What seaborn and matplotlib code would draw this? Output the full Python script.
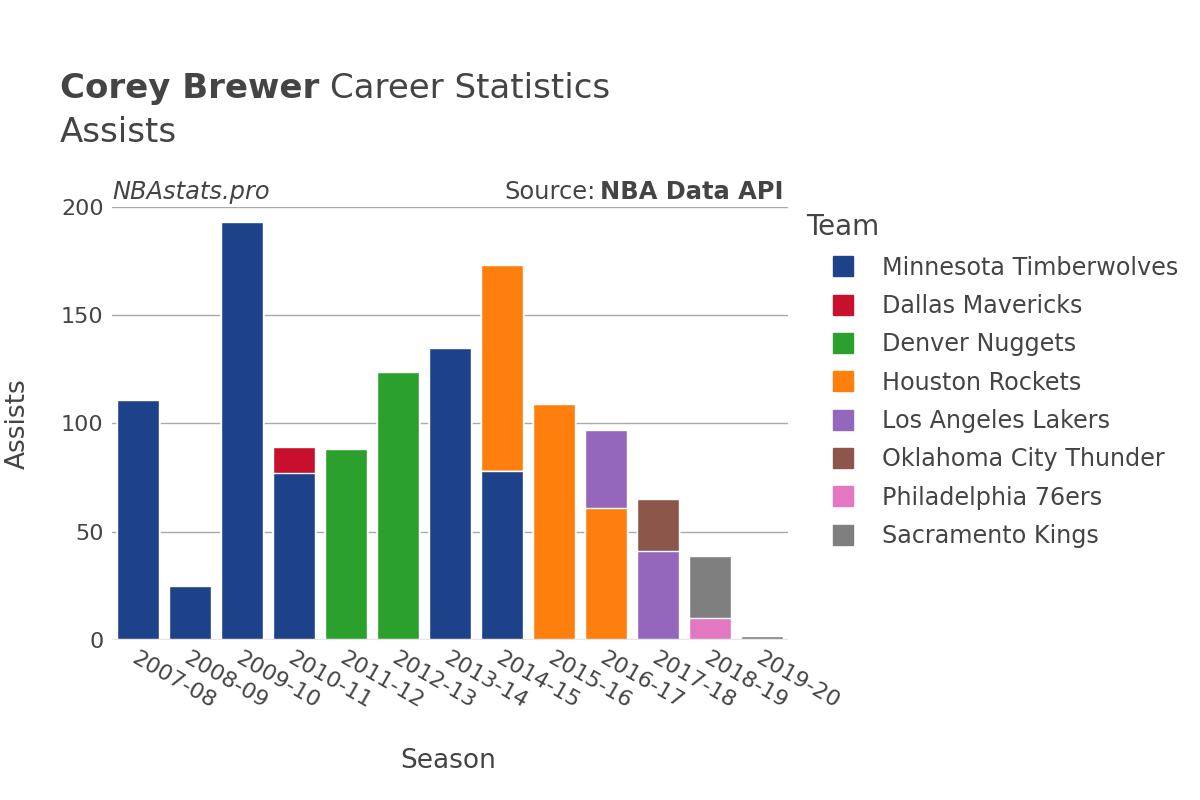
import numpy as np
import seaborn as sns
import matplotlib.pyplot as plt
from matplotlib.lines import Line2D

seasons = ["2007-08", "2008-09", "2009-10", "2010-11", "2011-12", "2012-13", "2013-14",
           "2014-15", "2015-16", "2016-17", "2017-18", "2018-19", "2019-20"]

teams = ["Minnesota Timberwolves", "Dallas Mavericks", "Denver Nuggets", "Houston Rockets",
         "Los Angeles Lakers", "Oklahoma City Thunder", "Philadelphia 76ers", "Sacramento Kings"]
team_colors = ["#1d428a", "#c8102e", "#2ca02c", "#ff7f0e", "#9467bd", "#8c564b", "#e377c2", "#7f7f7f"]

# assists per team per season (stacked in legend order)
min_ast = [111, 25, 193, 77, 0, 0, 135, 78, 0, 0, 0, 0, 0]
dal_ast = [0, 0, 0, 12, 0, 0, 0, 0, 0, 0, 0, 0, 0]
den_ast = [0, 0, 0, 0, 88, 124, 0, 0, 0, 0, 0, 0, 0]
hou_ast = [0, 0, 0, 0, 0, 0, 0, 95, 109, 61, 0, 0, 0]
lal_ast = [0, 0, 0, 0, 0, 0, 0, 0, 0, 36, 41, 0, 0]
okc_ast = [0, 0, 0, 0, 0, 0, 0, 0, 0, 0, 24, 0, 0]
phi_ast = [0, 0, 0, 0, 0, 0, 0, 0, 0, 0, 0, 10, 0]
sac_ast = [0, 0, 0, 0, 0, 0, 0, 0, 0, 0, 0, 29, 2]

layers = [min_ast, dal_ast, den_ast, hou_ast, lal_ast, okc_ast, phi_ast, sac_ast]
cum = np.cumsum(np.array(layers), axis=0)

sns.set_style("white")
plt.rcParams["font.family"] = ["DejaVu Sans"]
text_col = "#444444"

fig = plt.figure(figsize=(12, 8), dpi=100)
ax = fig.add_axes([0.0933, 0.2, 0.5634, 0.5413])

# draw the cumulative tops first, lower layers on top of them
for k in range(len(teams) - 1, -1, -1):
    sns.barplot(x=seasons, y=cum[k], color=team_colors[k], order=seasons, ax=ax,
                width=0.8, saturation=1, edgecolor="white", linewidth=1, zorder=3)

ax.set_ylim(0, 200)
ax.set_yticks([0, 50, 100, 150, 200])
ax.grid(axis="y", color="#aaaaaa", linewidth=1, zorder=0)
ax.axhline(0, color="#e5e5e5", linewidth=2.5, zorder=4)
for s in ax.spines.values():
    s.set_visible(False)
ax.tick_params(axis="both", length=0, labelsize=16, colors=text_col, pad=6)
for lab in ax.get_xticklabels():
    lab.set_rotation(-30)
    lab.set_ha("left")
    lab.set_va("top")
    lab.set_rotation_mode("anchor")
ax.set_xlabel("Season", fontsize=19, color=text_col)
ax.set_ylabel("Assists", fontsize=19, color=text_col)
ax.xaxis.set_label_coords(0.497, -0.25)
ax.yaxis.set_label_coords(-0.12, 0.5)

fig.text(0.05, 0.889, "Corey Brewer", fontsize=24.5, fontweight="bold", color=text_col, va="center")
fig.text(0.275, 0.889, "Career Statistics", fontsize=24.5, color=text_col, va="center")
fig.text(0.05, 0.834, "Assists", fontsize=24.5, color=text_col, va="center")

fig.text(0.094, 0.76, "NBAstats.pro", fontsize=17.4, style="italic",
         color=text_col, ha="left", va="center")
fig.text(0.6533, 0.76, "NBA Data API", fontsize=17.4, fontweight="bold",
         color=text_col, ha="right", va="center")
fig.text(0.4967, 0.76, "Source:", fontsize=17.4, color=text_col, ha="right", va="center")

fig.text(0.672, 1 - 227 / 800, "Team", fontsize=20, color=text_col, ha="left", va="center")
handles = [Line2D([0], [0], marker="s", linestyle="", markersize=15, markerfacecolor=c,
                  markeredgecolor=c) for c in team_colors]
leg = fig.legend(handles, teams, loc="upper left", bbox_to_anchor=(0.675, 1 - 246 / 800),
                 frameon=False, fontsize=17.2, labelspacing=0.6,
                 handletextpad=0.6, borderaxespad=0)
for t in leg.get_texts():
    t.set_color(text_col)

fig.savefig("out.png", dpi=100)
